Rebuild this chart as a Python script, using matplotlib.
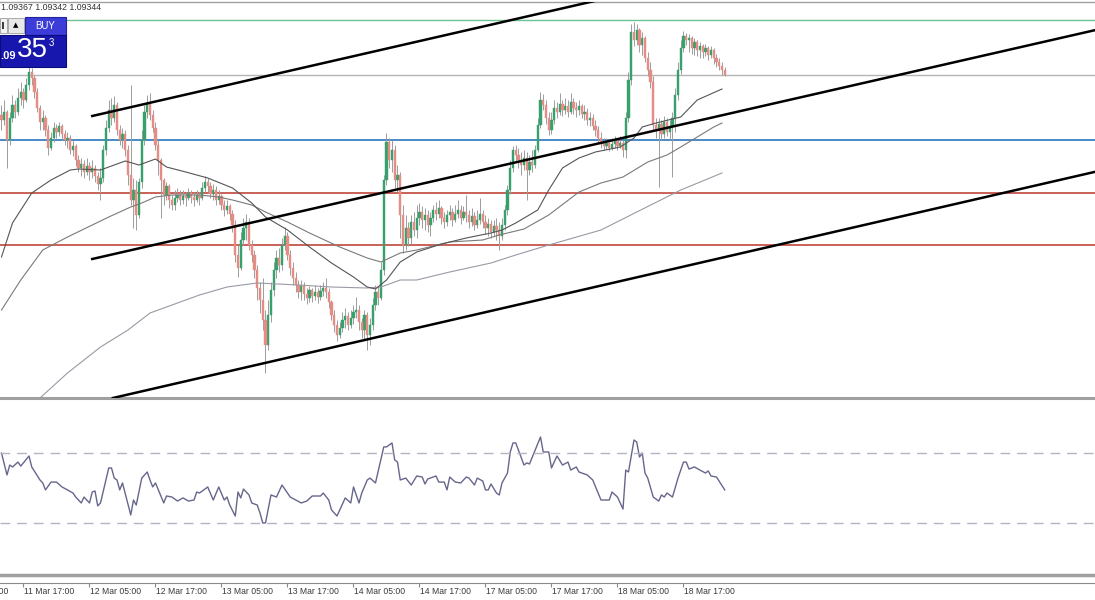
import numpy as np
import matplotlib
matplotlib.use("Agg")
import matplotlib.pyplot as plt
from matplotlib.patches import Rectangle
from matplotlib.transforms import blended_transform_factory

plt.rcParams['font.family'] = ['Liberation Sans', 'DejaVu Sans']

# EURUSD M30 candles, bar 0 = 11 Mar 13:00, one bar per 30 min
first_open = 1.09224
close = [
    1.09209, 1.09233, 1.09149, 1.09215, 1.09254, 1.09233, 1.09275, 1.09293, 1.09269, 1.09314,
    1.09353, 1.09335, 1.09293, 1.09245, 1.09203, 1.09215, 1.09179, 1.09125, 1.09155, 1.09185,
    1.09173, 1.09191, 1.09167, 1.09149, 1.09155, 1.09119, 1.09131, 1.09089, 1.09065, 1.09077,
    1.09053, 1.09071, 1.09053, 1.09065, 1.09041, 1.09017, 1.09035, 1.09119, 1.09185, 1.09239,
    1.09215, 1.09254, 1.09179, 1.09149, 1.09167, 1.09119, 1.09044, 1.08969, 1.08999, 1.08924,
    1.09023, 1.09149, 1.09233, 1.09260, 1.09224, 1.09185, 1.09134, 1.09089, 1.09029, 1.08984,
    1.09011, 1.08969, 1.08954, 1.08975, 1.08984, 1.08969, 1.08981, 1.08975, 1.08990, 1.08978,
    1.08969, 1.08984, 1.08975, 1.09005, 1.09023, 1.09011, 1.08987, 1.08999, 1.08969, 1.08981,
    1.08954, 1.08939, 1.08951, 1.08927, 1.08894, 1.08804, 1.08765, 1.08849, 1.08885, 1.08903,
    1.08834, 1.08804, 1.08759, 1.08705, 1.08669, 1.08609, 1.08534, 1.08624, 1.08699, 1.08759,
    1.08795, 1.08774, 1.08834, 1.08861, 1.08804, 1.08765, 1.08735, 1.08714, 1.08693, 1.08711,
    1.08687, 1.08675, 1.08699, 1.08681, 1.08693, 1.08678, 1.08696, 1.08705, 1.08693, 1.08663,
    1.08624, 1.08594, 1.08564, 1.08585, 1.08609, 1.08621, 1.08594, 1.08615, 1.08633, 1.08639,
    1.08603, 1.08579, 1.08624, 1.08564, 1.08594, 1.08654, 1.08693, 1.08675, 1.08759, 1.09029,
    1.09143, 1.09089, 1.09119, 1.09029, 1.09044, 1.08924, 1.08834, 1.08885, 1.08855, 1.08903,
    1.08879, 1.08915, 1.08933, 1.08909, 1.08924, 1.08894, 1.08915, 1.08939, 1.08927, 1.08945,
    1.08915, 1.08903, 1.08924, 1.08933, 1.08909, 1.08927, 1.08939, 1.08915, 1.08933, 1.08924,
    1.08903, 1.08921, 1.08894, 1.08909, 1.08927, 1.08903, 1.08885, 1.08897, 1.08873, 1.08891,
    1.08879, 1.08861, 1.08894, 1.08939, 1.08999, 1.09065, 1.09119, 1.09104, 1.09089, 1.09074,
    1.09095, 1.09059, 1.09083, 1.09074, 1.09119, 1.09194, 1.09269, 1.09254, 1.09215, 1.09179,
    1.09209, 1.09245, 1.09233, 1.09257, 1.09239, 1.09251, 1.09233, 1.09263, 1.09245, 1.09239,
    1.09251, 1.09227, 1.09233, 1.09209, 1.09215, 1.09191, 1.09179, 1.09155, 1.09143, 1.09131,
    1.09140, 1.09125, 1.09137, 1.09146, 1.09131, 1.09140, 1.09119, 1.09215, 1.09329, 1.09473,
    1.09449, 1.09479, 1.09434, 1.09455, 1.09395, 1.09359, 1.09323, 1.09194, 1.09179, 1.09197,
    1.09167, 1.09203, 1.09173, 1.09191, 1.09215, 1.09284, 1.09359, 1.09425, 1.09461, 1.09449,
    1.09455, 1.09425, 1.09443, 1.09419, 1.09431, 1.09413, 1.09425, 1.09404, 1.09419, 1.09395,
    1.09383, 1.09371, 1.09359, 1.09344,
]
high = [
    1.09254, 1.09269, 1.09239, 1.09233, 1.09284, 1.09269, 1.09305, 1.09323, 1.09305, 1.09335,
    1.09371, 1.09365, 1.09344, 1.09305, 1.09254, 1.09239, 1.09224, 1.09194, 1.09173, 1.09203,
    1.09197, 1.09203, 1.09197, 1.09179, 1.09173, 1.09164, 1.09149, 1.09137, 1.09104, 1.09095,
    1.09089, 1.09095, 1.09083, 1.09089, 1.09074, 1.09053, 1.09065, 1.09134, 1.09209, 1.09269,
    1.09275, 1.09281, 1.09263, 1.09194, 1.09185, 1.09179, 1.09134, 1.09314, 1.09035, 1.09029,
    1.09035, 1.09179, 1.09254, 1.09284, 1.09290, 1.09239, 1.09203, 1.09149, 1.09095, 1.09035,
    1.09023, 1.09017, 1.08984, 1.08999, 1.09005, 1.08999, 1.08999, 1.08993, 1.09005, 1.08999,
    1.08993, 1.08999, 1.08993, 1.09023, 1.09041, 1.09035, 1.09023, 1.09017, 1.09011, 1.08999,
    1.08987, 1.08969, 1.08969, 1.08957, 1.08939, 1.08909, 1.08834, 1.08873, 1.08915, 1.08927,
    1.08915, 1.08849, 1.08819, 1.08774, 1.08723, 1.08735, 1.08639, 1.08669, 1.08723, 1.08783,
    1.08819, 1.08825, 1.08855, 1.08888, 1.08873, 1.08819, 1.08783, 1.08753, 1.08729, 1.08729,
    1.08723, 1.08705, 1.08711, 1.08705, 1.08714, 1.08705, 1.08714, 1.08723, 1.08735, 1.08705,
    1.08669, 1.08639, 1.08609, 1.08603, 1.08633, 1.08645, 1.08633, 1.08639, 1.08654, 1.08678,
    1.08654, 1.08615, 1.08639, 1.08633, 1.08615, 1.08675, 1.08714, 1.08711, 1.08783, 1.09044,
    1.09170, 1.09155, 1.09149, 1.09134, 1.09074, 1.09053, 1.08954, 1.08924, 1.08903, 1.08924,
    1.08933, 1.08954, 1.08960, 1.08951, 1.08945, 1.08939, 1.08933, 1.08954, 1.08963, 1.08969,
    1.08951, 1.08933, 1.08939, 1.08954, 1.08945, 1.08954, 1.08969, 1.08954, 1.08951, 1.08984,
    1.08939, 1.08945, 1.08933, 1.08939, 1.08975, 1.08939, 1.08924, 1.08915, 1.08909, 1.08909,
    1.08915, 1.08903, 1.08915, 1.08954, 1.09014, 1.09089, 1.09131, 1.09134, 1.09125, 1.09113,
    1.09119, 1.09113, 1.09104, 1.09119, 1.09134, 1.09215, 1.09293, 1.09287, 1.09269, 1.09233,
    1.09233, 1.09269, 1.09263, 1.09290, 1.09269, 1.09275, 1.09269, 1.09290, 1.09275, 1.09263,
    1.09269, 1.09257, 1.09254, 1.09245, 1.09233, 1.09227, 1.09209, 1.09191, 1.09173, 1.09155,
    1.09155, 1.09149, 1.09155, 1.09161, 1.09155, 1.09161, 1.09149, 1.09233, 1.09353, 1.09497,
    1.09503, 1.09497, 1.09485, 1.09473, 1.09461, 1.09413, 1.09383, 1.09341, 1.09215, 1.09215,
    1.09209, 1.09221, 1.09215, 1.09209, 1.09233, 1.09305, 1.09383, 1.09449, 1.09476, 1.09470,
    1.09467, 1.09461, 1.09455, 1.09449, 1.09443, 1.09437, 1.09437, 1.09431, 1.09431, 1.09425,
    1.09407, 1.09395, 1.09383, 1.09367,
]
low = [
    1.09179, 1.09194, 1.09065, 1.09134, 1.09203, 1.09215, 1.09224, 1.09254, 1.09245, 1.09263,
    1.09299, 1.09314, 1.09275, 1.09233, 1.09179, 1.09179, 1.09161, 1.09104, 1.09119, 1.09143,
    1.09155, 1.09161, 1.09149, 1.09134, 1.09125, 1.09107, 1.09101, 1.09071, 1.09053, 1.09041,
    1.09035, 1.09044, 1.09029, 1.09035, 1.09023, 1.08999, 1.08969, 1.09023, 1.09104, 1.09173,
    1.09194, 1.09203, 1.09164, 1.09134, 1.09125, 1.09101, 1.09014, 1.08954, 1.08885, 1.08879,
    1.08915, 1.09005, 1.09134, 1.09215, 1.09209, 1.09173, 1.09119, 1.09044, 1.08915, 1.08954,
    1.08969, 1.08945, 1.08939, 1.08939, 1.08963, 1.08954, 1.08957, 1.08951, 1.08969, 1.08960,
    1.08951, 1.08963, 1.08954, 1.08969, 1.08993, 1.08993, 1.08975, 1.08969, 1.08954, 1.08957,
    1.08939, 1.08921, 1.08927, 1.08909, 1.08873, 1.08783, 1.08738, 1.08759, 1.08834, 1.08849,
    1.08819, 1.08783, 1.08735, 1.08669, 1.08630, 1.08579, 1.08450, 1.08519, 1.08603, 1.08681,
    1.08735, 1.08753, 1.08759, 1.08819, 1.08789, 1.08744, 1.08714, 1.08693, 1.08675, 1.08669,
    1.08669, 1.08657, 1.08663, 1.08663, 1.08669, 1.08660, 1.08669, 1.08681, 1.08675, 1.08645,
    1.08609, 1.08573, 1.08546, 1.08555, 1.08573, 1.08585, 1.08579, 1.08585, 1.08597, 1.08615,
    1.08579, 1.08555, 1.08549, 1.08519, 1.08534, 1.08579, 1.08639, 1.08654, 1.08669, 1.08744,
    1.09014, 1.09065, 1.09053, 1.09005, 1.08993, 1.08855, 1.08810, 1.08819, 1.08831, 1.08837,
    1.08861, 1.08855, 1.08894, 1.08885, 1.08879, 1.08873, 1.08861, 1.08903, 1.08909, 1.08915,
    1.08897, 1.08885, 1.08891, 1.08909, 1.08891, 1.08903, 1.08915, 1.08897, 1.08909, 1.08903,
    1.08885, 1.08891, 1.08879, 1.08885, 1.08897, 1.08885, 1.08867, 1.08861, 1.08855, 1.08861,
    1.08849, 1.08819, 1.08849, 1.08879, 1.08924, 1.08987, 1.09053, 1.09083, 1.09065, 1.09044,
    1.09059, 1.08969, 1.09044, 1.09053, 1.09065, 1.09113, 1.09185, 1.09239, 1.09197, 1.09164,
    1.09167, 1.09197, 1.09215, 1.09224, 1.09221, 1.09227, 1.09218, 1.09227, 1.09227, 1.09218,
    1.09224, 1.09215, 1.09209, 1.09194, 1.09191, 1.09179, 1.09161, 1.09140, 1.09125, 1.09119,
    1.09122, 1.09116, 1.09119, 1.09125, 1.09119, 1.09125, 1.09098, 1.09095, 1.09203, 1.09314,
    1.09431, 1.09434, 1.09413, 1.09404, 1.09383, 1.09341, 1.09305, 1.09179, 1.09155, 1.09008,
    1.09149, 1.09155, 1.09161, 1.09149, 1.09038, 1.09173, 1.09269, 1.09347, 1.09413, 1.09434,
    1.09413, 1.09407, 1.09404, 1.09401, 1.09395, 1.09395, 1.09401, 1.09389, 1.09395, 1.09377,
    1.09368, 1.09359, 1.09344, 1.09342,
]

# moving averages, read at their turning points (bar index, price)
ma_fast_bar = [0, 4, 11, 18, 25, 28, 36, 45, 50, 56, 60, 67, 75, 84, 91, 96, 104, 112, 120, 128,
               133, 136, 140, 145, 151, 160, 169, 178, 182, 187, 195, 199, 204, 210, 216, 225, 230,
               233, 238, 247, 253, 262]
ma_fast = [1.08798, 1.08900, 1.08990, 1.09029, 1.09059, 1.09062, 1.09059, 1.09086, 1.09074, 1.09092,
           1.09068, 1.09053, 1.09035, 1.09005, 1.08960, 1.08918, 1.08879, 1.08828, 1.08780, 1.08738,
           1.08708, 1.08702, 1.08729, 1.08783, 1.08813, 1.08837, 1.08855, 1.08870, 1.08879, 1.08900,
           1.08939, 1.08999, 1.09065, 1.09095, 1.09113, 1.09128, 1.09155, 1.09188, 1.09200, 1.09218,
           1.09269, 1.09302]
ma_mid_bar = [0, 7, 15, 24, 33, 39, 47, 51, 56, 62, 72, 79, 84, 91, 96, 104, 112, 123, 133, 138,
              145, 151, 163, 175, 181, 190, 199, 210, 218, 226, 235, 242, 247, 259, 262]
ma_mid = [1.08639, 1.08729, 1.08819, 1.08858, 1.08894, 1.08918, 1.08948, 1.08960, 1.08978, 1.08984,
          1.08984, 1.08978, 1.08969, 1.08954, 1.08933, 1.08903, 1.08870, 1.08828, 1.08795, 1.08783,
          1.08810, 1.08819, 1.08843, 1.08849, 1.08864, 1.08882, 1.08924, 1.08993, 1.09020, 1.09038,
          1.09083, 1.09104, 1.09128, 1.09188, 1.09200]
ma_slow_bar = [3, 14, 24, 36, 46, 54, 64, 72, 82, 93, 108, 120, 133, 138, 145, 151, 163, 178, 187,
               199, 218, 231, 247, 262]
ma_slow = [1.08339, 1.08375, 1.08450, 1.08528, 1.08579, 1.08630, 1.08660, 1.08684, 1.08708, 1.08720,
           1.08714, 1.08708, 1.08705, 1.08708, 1.08729, 1.08729, 1.08753, 1.08780, 1.08804, 1.08834,
           1.08879, 1.08933, 1.08999, 1.09050]

# RSI sub-window (bar index, value)
rsi_bar = [0, 2, 3, 4, 6, 7, 10, 11, 14, 15, 16, 18, 20, 22, 24, 26, 27, 29, 30, 32, 33, 34, 35, 36,
           39, 40, 41, 42, 43, 44, 47, 48, 49, 51, 53, 54, 55, 56, 59, 60, 62, 64, 66, 68, 70, 71, 72,
           75, 77, 79, 81, 82, 83, 85, 86, 87, 88, 90, 91, 93, 94, 95, 96, 98, 100, 102, 105, 107, 109,
           111, 113, 116, 117, 119, 120, 122, 123, 125, 127, 128, 130, 131, 133, 134, 136, 139, 140,
           142, 143, 144, 145, 147, 149, 151, 153, 154, 155, 158, 159, 161, 162, 163, 165, 167, 169,
           170, 172, 173, 175, 176, 177, 178, 180, 181, 182, 184, 185, 186, 187, 190, 191, 192, 196,
           197, 199, 200, 202, 204, 206, 207, 209, 210, 213, 215, 218, 221, 222, 224, 226, 227, 228,
           230, 231, 232, 233, 234, 235, 237, 239, 240, 241, 242, 244, 246, 248, 249, 250, 252, 254,
           256, 257, 258, 260, 263]
rsi_val = [70.1, 57.5, 63.2, 62.1, 64.9, 62.6, 68.4, 62.1, 54.6, 52.9, 48.9, 53.4, 53.4, 50.6, 48.9,
           47.1, 44.8, 41.4, 44.8, 41.4, 47.7, 48.3, 39.7, 41.4, 61.5, 61.5, 55.7, 54.6, 48.9, 52.9,
           34.5, 43.1, 40.2, 55.7, 59.2, 54.6, 50.6, 52.9, 41.4, 45.4, 44.8, 42.5, 44.3, 42.5, 43.1,
           47.7, 47.1, 50.6, 43.1, 50.6, 43.1, 44.8, 40.2, 33.9, 47.7, 44.3, 49.4, 46.0, 41.4, 40.2,
           35.6, 29.9, 29.9, 46.0, 44.8, 51.7, 44.8, 43.1, 41.4, 42.5, 45.4, 45.4, 47.1, 43.1, 37.4,
           33.9, 37.4, 44.3, 41.4, 50.6, 41.4, 47.1, 54.6, 55.7, 52.9, 73.6, 73.6, 75.9, 66.1, 64.9,
           54.6, 55.7, 51.7, 56.9, 56.3, 52.3, 55.2, 56.9, 53.4, 53.4, 48.9, 56.3, 53.4, 52.9, 56.3,
           55.7, 51.7, 55.7, 54.0, 48.9, 48.9, 52.3, 47.1, 46.0, 52.9, 58.6, 70.7, 75.9, 75.9, 63.2,
           64.4, 63.8, 79.3, 70.7, 70.7, 61.5, 68.4, 63.2, 64.9, 60.3, 62.1, 59.2, 57.5, 54.6, 43.1,
           43.1, 47.7, 44.8, 37.9, 60.3, 59.2, 77.6, 76.4, 67.8, 70.1, 58.6, 55.7, 44.8, 42.5, 46.0,
           44.8, 47.1, 44.8, 55.7, 64.9, 64.9, 60.9, 62.1, 60.3, 58.6, 59.8, 56.9, 56.3, 48.9]
rsi_levels = [70, 30]

# horizontal levels
level_green = 1.09509
bid_price = 1.09344
level_blue = 1.09149
level_red = [1.08990, 1.08834]

# channel lines: (bar, price) end points
channel_upper = ([33, 240], [1.09221, 1.09612])
channel_mid = ([33, 400], [1.08792, 1.09483])
channel_low = ([40.5, 400], [1.08375, 1.09058])

time_ticks = [8, 32, 56, 80, 104, 128, 152, 176, 200, 224, 248]
time_labels = ['11 Mar 17:00', '12 Mar 05:00', '12 Mar 17:00', '13 Mar 05:00', '13 Mar 17:00',
               '14 Mar 05:00', '14 Mar 17:00', '17 Mar 05:00', '17 Mar 17:00', '18 Mar 05:00',
               '18 Mar 17:00']
header_text = '1.09367 1.09342 1.09344'

W, H = 1095, 600
bull = '#37a06d'
bear = '#e58d85'
frame = '#a0a0a0'

fig = plt.figure(figsize=(W / 100, H / 100), dpi=100)
fig.patch.set_facecolor('white')

ax = fig.add_axes([0, 202 / H, 1, 396 / H])
ax_rsi = fig.add_axes([0, 25 / H, 1, 174 / H], sharex=ax)
ax_time = fig.add_axes([0, 14 / H, 1, 3 / H], sharex=ax)

# candles
n = len(close)
bars = np.arange(n)
c = np.array(close)
o = np.array([first_open] + close[:-1])  # each bar opens at the previous close
up = c >= o
ax.vlines(bars, low, high, color='#9c9c9c', lw=0.7, zorder=2)
ax.bar(bars[up], (c - o)[up], bottom=o[up], width=0.75, color=bull,
       edgecolor=bull, lw=0.3, zorder=3)
ax.bar(bars[~up], (o - c)[~up], bottom=c[~up], width=0.75, color=bear,
       edgecolor=bear, lw=0.3, zorder=3)

# moving averages
ax.plot(ma_slow_bar, ma_slow, color='#9a9aa6', lw=0.8, zorder=4)
ax.plot(ma_mid_bar, ma_mid, color='#7a7a7a', lw=0.8, zorder=4)
ax.plot(ma_fast_bar, ma_fast, color='#555555', lw=0.8, zorder=4)

# levels
ax.axhline(level_green, color='#6cc293', lw=1.0, zorder=1)
ax.axhline(bid_price, color='#b4b4b4', lw=1.0, zorder=1)
ax.axhline(level_blue, color='#3a80c0', lw=1.3, zorder=1)
for lv in level_red:
    ax.axhline(lv, color='#c0473b', lw=1.2, zorder=1)

# channel
for xs, ys in (channel_upper, channel_mid, channel_low):
    ax.plot(xs, ys, color='black', lw=1.8, zorder=5)

ax.set_xlim(-0.545, 397.64)
ax.set_ylim(1.08375, 1.09563)
ax.set_yticks([])
ax.tick_params(axis='x', bottom=False, top=False, labelbottom=False)
for s in ['left', 'right']:
    ax.spines[s].set_visible(False)
ax.spines['top'].set_color(frame)
ax.spines['top'].set_linewidth(1.0)
ax.spines['bottom'].set_color(frame)
ax.spines['bottom'].set_linewidth(2.2)

# RSI window
ax_rsi.plot(rsi_bar, rsi_val, color='#66668c', lw=1.0)
for lv in rsi_levels:
    ax_rsi.axhline(lv, color='#b4b4c4', lw=1.0, dashes=(7, 5))
ax_rsi.set_ylim(0, 100)
ax_rsi.set_yticks([])
ax_rsi.tick_params(axis='x', bottom=False, top=False, labelbottom=False)
for s in ['left', 'right', 'top']:
    ax_rsi.spines[s].set_visible(False)
ax_rsi.spines['bottom'].set_color(frame)
ax_rsi.spines['bottom'].set_linewidth(2.5)

# time scale
for s in ['left', 'right', 'bottom']:
    ax_time.spines[s].set_visible(False)
ax_time.spines['top'].set_color('#8a8a8a')
ax_time.set_yticks([])
ax_time.set_xticks(time_ticks)
ax_time.tick_params(axis='x', top=True, bottom=False, labelbottom=False, direction='in',
                    length=3, color='#8a8a8a')
tt = blended_transform_factory(ax_time.transData, ax_time.transAxes)
for t, lab in zip([-16] + time_ticks, ['11 Mar 05:00'] + time_labels):
    ax_time.text(t + 0.3, -1.7, lab, transform=tt, ha='left', va='center',
                 fontsize=6.2, color='#3a3a3a', clip_on=False)


# one-click trading panel (pixel coordinates of the screenshot)
def px_rect(x0, y0, x1, y1, **kw):
    fig.add_artist(Rectangle((x0 / W, 1 - y1 / H), (x1 - x0) / W, (y1 - y0) / H,
                             transform=fig.transFigure, **kw))


def px_text(x, y, s, **kw):
    fig.text(x / W, 1 - y / H, s, **kw)


px_text(1, 8, header_text, fontsize=6.3, color='#333333', va='center', ha='left')
px_rect(0, 18, 7, 33, facecolor='#f2f2f2', edgecolor='#9a9a9a', lw=0.6)
px_rect(1.5, 22, 3.5, 29, facecolor='#404040', edgecolor='none')
px_rect(8, 18, 24, 33, facecolor='#e8e8e8', edgecolor='#a0a0a0', lw=0.6)
px_text(16, 25.5, '▲', fontsize=5, color='black', ha='center', va='center',
        family='DejaVu Sans')
px_rect(25, 17, 66, 35, facecolor='#3c3cd8', edgecolor='#24249a', lw=0.8)
px_text(45.5, 26, 'BUY', fontsize=7, color='white', ha='center', va='center')
px_rect(0, 35, 66, 67, facecolor='#1717ad', edgecolor='#0b0b7a', lw=0.8)
px_text(0, 56, '.09', fontsize=8, color='white', ha='left', va='center', weight='bold')
px_text(32, 50, '35', fontsize=20, color='white', ha='center', va='center')
px_text(51, 43, '3', fontsize=7, color='white', ha='center', va='center')

fig.savefig('out.png', dpi=100, facecolor='white')
